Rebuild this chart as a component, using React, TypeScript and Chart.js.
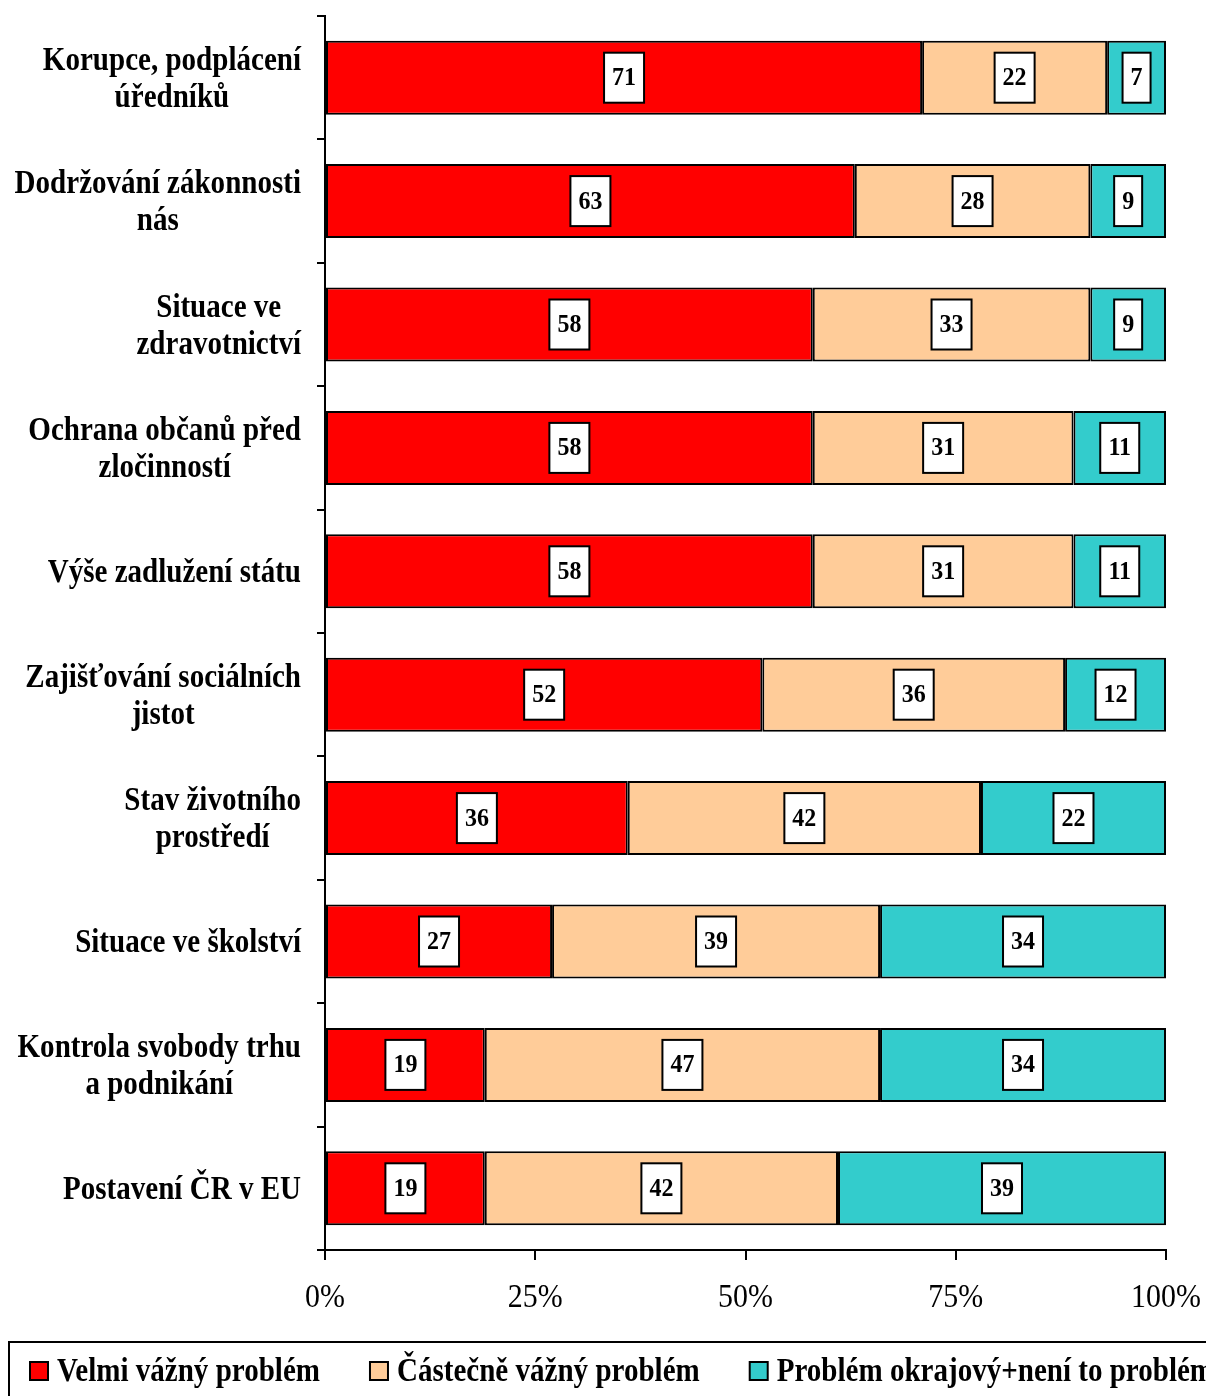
import { useEffect, useRef } from 'react';
import { Chart, registerables } from 'chart.js';
import type { Plugin } from 'chart.js';

Chart.register(...registerables);

const FONT = '"Liberation Serif", "Times New Roman", serif';
// the reference text is a little taller than it is wide
const SX = 0.88;

const categories: string[][] = [
  ['Korupce, podplácení', 'úředníků'],
  ['Dodržování zákonnosti', 'nás'],
  ['Situace ve', 'zdravotnictví'],
  ['Ochrana občanů před', 'zločinností'],
  ['Výše zadlužení státu'],
  ['Zajišťování sociálních', 'jistot'],
  ['Stav životního', 'prostředí'],
  ['Situace ve školství'],
  ['Kontrola svobody trhu', 'a podnikání'],
  ['Postavení ČR v EU'],
];

const seriesNames = ['Velmi vážný problém', 'Částečně vážný problém', 'Problém okrajový+není to problém'];
const seriesColors = ['#FF0000', '#FFCC99', '#33CCCC'];

const velmiVazny = [71, 63, 58, 58, 58, 52, 36, 27, 19, 19];
const castecneVazny = [22, 28, 33, 31, 31, 36, 42, 39, 47, 42];
const okrajovy = [7, 9, 9, 11, 11, 12, 22, 34, 34, 39];

const xTicks = [0, 25, 50, 75, 100];

function textWidth(ctx: CanvasRenderingContext2D, text: string) {
  return ctx.measureText(text).width * SX;
}

// draws text squeezed horizontally; align is applied to the squeezed width
function drawText(ctx: CanvasRenderingContext2D, text: string, x: number, y: number, align: 'left' | 'center' | 'right') {
  ctx.save();
  ctx.translate(x, y);
  ctx.scale(SX, 1);
  ctx.textAlign = align;
  ctx.textBaseline = 'middle';
  ctx.fillText(text, 0, 0);
  ctx.restore();
}

const axisText: Plugin<'bar'> = {
  id: 'axisText',
  afterDraw(chart) {
    const { ctx } = chart;
    const yScale = chart.scales.y;
    const xScale = chart.scales.x;
    const right = chart.chartArea.left - 24;
    ctx.save();
    ctx.fillStyle = '#000';
    ctx.font = `bold 33px ${FONT}`;
    categories.forEach((lines, i) => {
      const widest = Math.max(...lines.map((l) => textWidth(ctx, l)));
      const cx = right - widest / 2;
      const cy = yScale.getPixelForValue(i) + 2;
      const lineHeight = 37;
      const top = cy - ((lines.length - 1) * lineHeight) / 2;
      lines.forEach((line, j) => drawText(ctx, line, cx, top + j * lineHeight, 'center'));
    });
    ctx.font = `34px ${FONT}`;
    const ty = chart.chartArea.bottom + 48;
    xTicks.forEach((v) => drawText(ctx, `${v}%`, xScale.getPixelForValue(v), ty, 'center'));
    ctx.restore();
  },
};

const valueBoxes: Plugin<'bar'> = {
  id: 'valueBoxes',
  afterDatasetsDraw(chart) {
    const { ctx } = chart;
    ctx.save();
    ctx.font = `bold 25px ${FONT}`;
    chart.data.datasets.forEach((ds, di) => {
      const meta = chart.getDatasetMeta(di);
      meta.data.forEach((el, i) => {
        const props = el.getProps(['x', 'y', 'base'], true) as { x: number; y: number; base: number };
        const cx = (props.x + props.base) / 2;
        const cy = props.y;
        const text = String(ds.data[i]);
        const w = Math.round(ctx.measureText(text).width * 0.96 + 16);
        const h = 50;
        ctx.fillStyle = '#fff';
        ctx.fillRect(cx - w / 2, cy - h / 2, w, h);
        ctx.lineWidth = 2;
        ctx.strokeStyle = '#000';
        ctx.strokeRect(cx - w / 2, cy - h / 2, w, h);
        ctx.fillStyle = '#000';
        ctx.save();
        ctx.translate(cx, cy + 1);
        ctx.scale(0.96, 1);
        ctx.textAlign = 'center';
        ctx.textBaseline = 'middle';
        ctx.fillText(text, 0, 0);
        ctx.restore();
      });
    });
    ctx.restore();
  },
};

const boxedLegend: Plugin<'bar'> = {
  id: 'boxedLegend',
  afterDraw(chart) {
    const { ctx } = chart;
    ctx.save();
    ctx.lineWidth = 2;
    ctx.strokeStyle = '#000';
    ctx.strokeRect(9, 1342, 1240, 80);
    ctx.font = `bold 33px ${FONT}`;
    const cy = 1371;
    let x = 30;
    chart.data.datasets.forEach((ds) => {
      ctx.fillStyle = ds.backgroundColor as string;
      ctx.fillRect(x, cy - 9, 18, 18);
      ctx.strokeStyle = '#000';
      ctx.lineWidth = 2;
      ctx.strokeRect(x, cy - 9, 18, 18);
      ctx.fillStyle = '#000';
      const label = ds.label ?? '';
      drawText(ctx, label, x + 27, cy + 1, 'left');
      x += 27 + textWidth(ctx, label) + 50;
    });
    ctx.restore();
  },
};

function StackedBarChart() {
  const canvasRef = useRef<HTMLCanvasElement | null>(null);
  const chartRef = useRef<Chart<'bar'> | null>(null);

  useEffect(() => {
    if (!canvasRef.current) return;
    chartRef.current?.destroy();
    const values = [velmiVazny, castecneVazny, okrajovy];
    chartRef.current = new Chart(canvasRef.current, {
      type: 'bar',
      data: {
        labels: categories.map((c) => c.join(' ')),
        datasets: values.map((data, i) => ({
          label: seriesNames[i],
          data,
          backgroundColor: seriesColors[i],
          borderColor: '#000',
          borderWidth: 2,
          borderSkipped: false,
          categoryPercentage: 1,
          barPercentage: 0.6,
        })),
      },
      options: {
        indexAxis: 'y',
        animation: false,
        responsive: false,
        devicePixelRatio: 1,
        layout: { padding: { top: 16, right: 40, bottom: 80, left: 0 } },
        plugins: {
          legend: { display: false },
          tooltip: { enabled: false },
        },
        scales: {
          x: {
            stacked: true,
            min: 0,
            max: 100,
            afterBuildTicks(scale) {
              scale.ticks = xTicks.map((value) => ({ value }));
            },
            afterFit(scale) {
              scale.height = 66;
            },
            border: { color: '#000', width: 2 },
            grid: { drawOnChartArea: false, color: '#000', lineWidth: 2, tickLength: 10 },
            ticks: { display: false },
          },
          y: {
            stacked: true,
            afterFit(scale) {
              scale.width = 325;
            },
            border: { color: '#000', width: 2 },
            grid: { drawOnChartArea: false, color: '#000', lineWidth: 2, tickLength: 8 },
            ticks: { display: false },
          },
        },
      },
      plugins: [valueBoxes, axisText, boxedLegend],
    });
    return () => {
      chartRef.current?.destroy();
      chartRef.current = null;
    };
  }, []);

  return <canvas ref={canvasRef} width={1206} height={1396} style={{ display: 'block' }} />;
}

export default function App() {
  useEffect(() => {
    document.body.style.margin = '0';
    document.body.style.overflow = 'hidden';
  }, []);
  return (
    <div style={{ width: 1206, height: 1396, overflow: 'hidden', background: '#fff' }}>
      <StackedBarChart />
    </div>
  );
}
